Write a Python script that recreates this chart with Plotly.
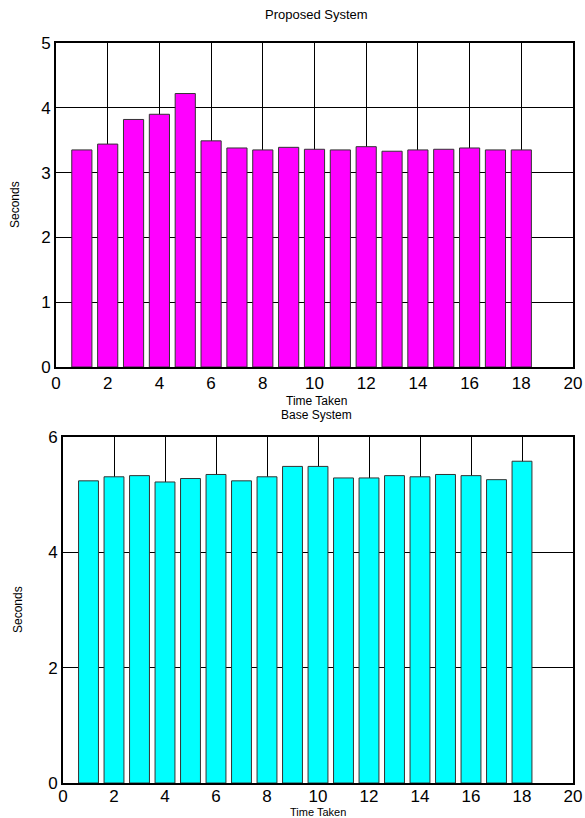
import plotly.graph_objects as go

runs = list(range(1, 19))
proposed_seconds = [3.35, 3.44, 3.82, 3.90, 4.22, 3.49, 3.38, 3.35, 3.39, 3.36,
                    3.35, 3.40, 3.33, 3.35, 3.36, 3.38, 3.35, 3.35]
base_seconds = [5.24, 5.31, 5.33, 5.22, 5.28, 5.35, 5.24, 5.31, 5.49, 5.49,
                5.29, 5.29, 5.33, 5.31, 5.35, 5.33, 5.26, 5.58]
x_ticks = [0, 2, 4, 6, 8, 10, 12, 14, 16, 18, 20]
top_y_ticks = [0, 1, 2, 3, 4, 5]
bottom_y_ticks = [0, 2, 4, 6]

font = "Liberation Sans, Arial, sans-serif"

fig = go.Figure()
fig.add_trace(go.Bar(x=runs, y=proposed_seconds, marker=dict(color="#ff00ff", line=dict(color="#333333", width=1)),
                     xaxis="x", yaxis="y", showlegend=False))
fig.add_trace(go.Bar(x=runs, y=base_seconds, marker=dict(color="#00ffff", line=dict(color="#333333", width=1)),
                     xaxis="x2", yaxis="y2", showlegend=False))

axis_common = dict(showline=True, linecolor="black", linewidth=2, mirror=True,
                   showgrid=True, gridcolor="black", gridwidth=1.2, zeroline=False,
                   automargin=False, ticks="",
                   tickfont=dict(family=font, size=17, color="black"))

top_dom = [1 - 367 / 818, 1 - 43 / 818]
bot_dom = [1 - 783 / 818, 1 - 437 / 818]

fig.update_layout(
    width=585, height=818,
    margin=dict(l=0, r=0, t=0, b=0),
    paper_bgcolor="white", plot_bgcolor="white",
    bargap=0.22,
    xaxis=dict(domain=[56 / 585, 573 / 585], range=[0, 20], tickvals=x_ticks, anchor="y", **axis_common),
    yaxis=dict(domain=top_dom, range=[0, 5], tickvals=top_y_ticks, anchor="x", **axis_common),
    xaxis2=dict(domain=[63 / 585, 573 / 585], range=[0, 20], tickvals=x_ticks, anchor="y2",
                ticklabelstandoff=-3, **axis_common),
    yaxis2=dict(domain=bot_dom, range=[0, 6], tickvals=bottom_y_ticks, anchor="x2", **axis_common),
)

def ann(text, x, y, angle=0, size=12):
    fig.add_annotation(text=text, x=x / 585, y=1 - y / 818, xref="paper", yref="paper",
                       showarrow=False, textangle=angle,
                       font=dict(family=font, size=size, color="black"),
                       xanchor="center", yanchor="middle")

ann("Proposed System", 316, 15, size=13)
ann("Time Taken", 316, 401)
ann("Base System", 316, 415)
ann("Time Taken", 318, 812, size=11)
ann("Seconds", 15, 205, angle=-90)
ann("Seconds", 18, 610, angle=-90)

fig.write_html("out.html", config={"displayModeBar": False},
               post_script="document.body.style.margin='0';document.body.style.overflow='hidden';")
